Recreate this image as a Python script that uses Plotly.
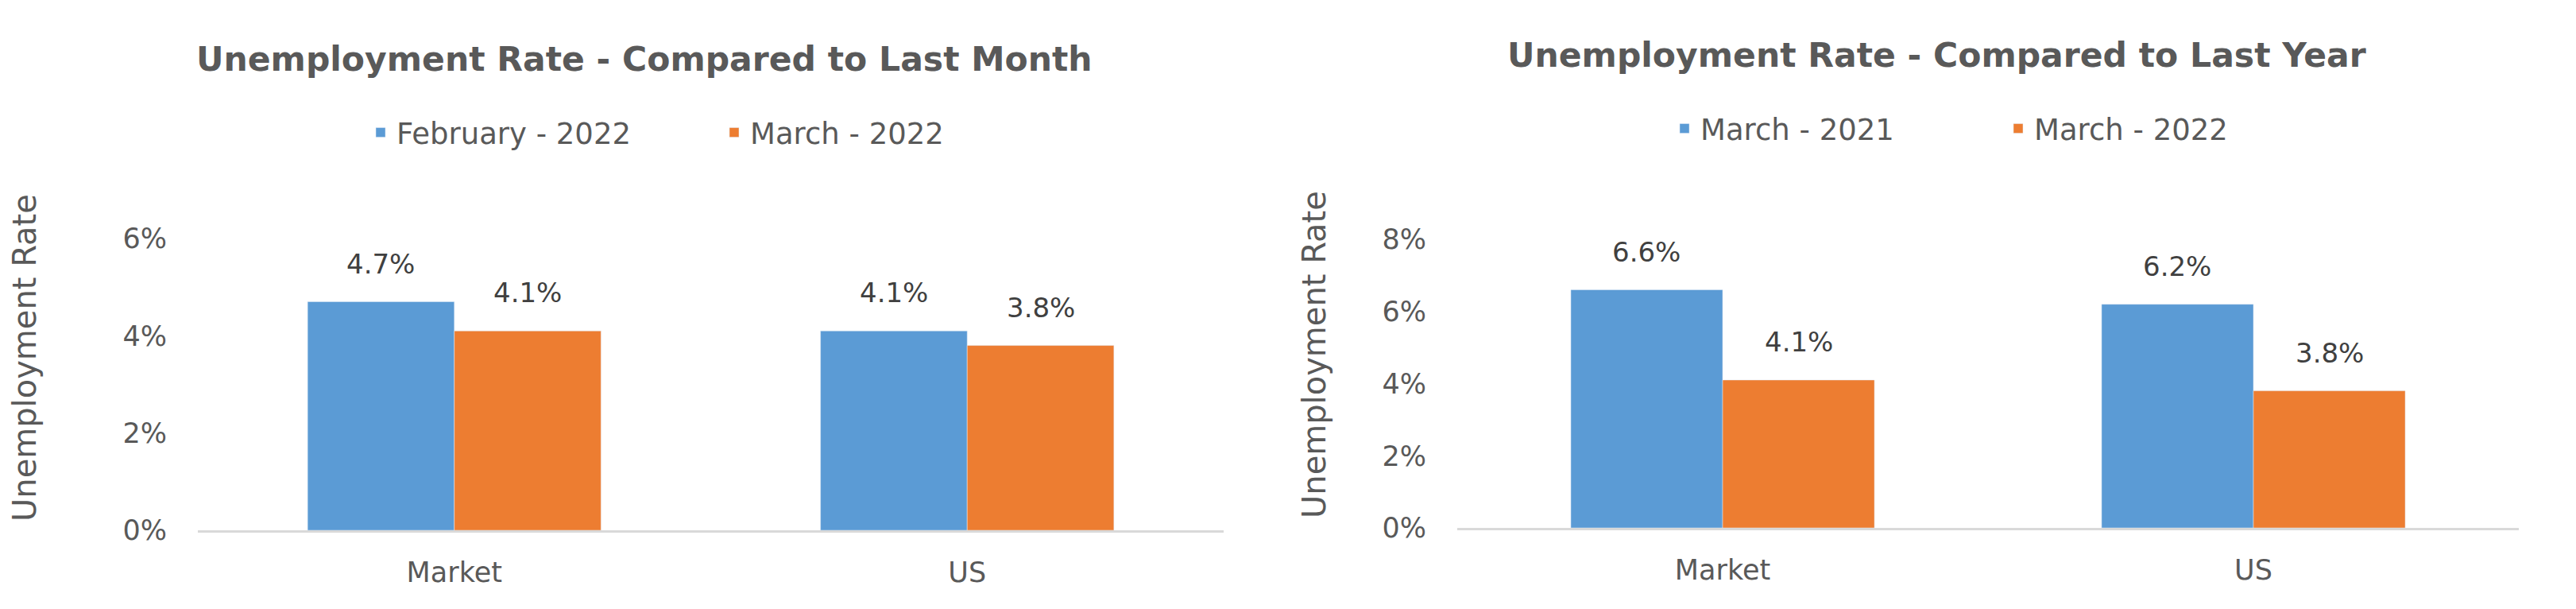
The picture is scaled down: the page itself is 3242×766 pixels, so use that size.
import plotly.graph_objects as go

categories = ["Market", "US"]

month_title = "Unemployment Rate - Compared to Last Month"
month_series_names = ["February - 2022", "March - 2022"]
month_prev = [4.7, 4.1]
month_curr = [4.1, 3.8]

year_title = "Unemployment Rate - Compared to Last Year"
year_series_names = ["March - 2021", "March - 2022"]
year_prev = [6.6, 6.2]
year_curr = [4.1, 3.8]

y_title = "Unemployment Rate"
month_ticks = [0, 2, 4, 6]
year_ticks = [0, 2, 4, 6, 8]

BLUE = "#5B9BD5"
ORANGE = "#ED7D31"
GRAY = "#595959"
DARK = "#404040"
FONT = "DejaVu Sans"
BARGAP = 0.428

fig = go.Figure()

fig.add_trace(go.Bar(x=categories, y=month_prev, name=month_series_names[0],
                     marker_color=BLUE, xaxis="x", yaxis="y", legend="legend"))
fig.add_trace(go.Bar(x=categories, y=month_curr, name=month_series_names[1],
                     marker_color=ORANGE, xaxis="x", yaxis="y", legend="legend"))
fig.add_trace(go.Bar(x=categories, y=year_prev, name=year_series_names[0],
                     marker_color=BLUE, xaxis="x2", yaxis="y2", legend="legend2"))
fig.add_trace(go.Bar(x=categories, y=year_curr, name=year_series_names[1],
                     marker_color=ORANGE, xaxis="x2", yaxis="y2", legend="legend2"))

off = (1 - BARGAP) / 4
annotations = []
for xa, ya, prev, curr in (("x", "y", month_prev, month_curr), ("x2", "y2", year_prev, year_curr)):
    for i, (p, c) in enumerate(zip(prev, curr)):
        for dx, v in ((-off, p), (off, c)):
            annotations.append(dict(x=i + dx, y=v, xref=xa, yref=ya, text=f"{v}%",
                                    showarrow=False, yanchor="bottom", yshift=26,
                                    font=dict(family=FONT, size=34, color=DARK)))

annotations += [
    dict(x=811 / 3242, y=1 - 74 / 766, xref="paper", yref="paper", text=f"<b>{month_title}</b>",
         showarrow=False, xanchor="center", yanchor="middle",
         font=dict(family=FONT, size=42.5, color=GRAY)),
    dict(x=2437 / 3242, y=1 - 69 / 766, xref="paper", yref="paper", text=f"<b>{year_title}</b>",
         showarrow=False, xanchor="center", yanchor="middle",
         font=dict(family=FONT, size=42.5, color=GRAY)),
    dict(x=31 / 3242, y=1 - 450 / 766, xref="paper", yref="paper", text=y_title,
         showarrow=False, textangle=-90, xanchor="center", yanchor="middle",
         font=dict(family=FONT, size=40, color=GRAY)),
    dict(x=1654 / 3242, y=1 - 446 / 766, xref="paper", yref="paper", text=y_title,
         showarrow=False, textangle=-90, xanchor="center", yanchor="middle",
         font=dict(family=FONT, size=40, color=GRAY)),
]

axis_font = dict(family=FONT, size=35, color=GRAY)
xcommon = dict(type="category", showgrid=False, zeroline=False, showline=True,
               linecolor="#D9D9D9", linewidth=3, ticks="", tickfont=axis_font,
               ticklabelstandoff=20, fixedrange=True, automargin=False)
ycommon = dict(showgrid=False, zeroline=False, showline=False, ticks="",
               tickfont=axis_font, ticklabelstandoff=38, fixedrange=True, automargin=False)

fig.update_layout(
    width=3242, height=766,
    margin=dict(l=0, r=0, t=0, b=0, autoexpand=False),
    paper_bgcolor="white", plot_bgcolor="white",
    barmode="group", bargap=BARGAP, bargroupgap=0,
    showlegend=True,
    xaxis=dict(domain=[249 / 3242, 1540 / 3242], anchor="y", **xcommon),
    yaxis=dict(domain=[(766 - 667) / 766, (766 - 300) / 766], anchor="x",
               range=[0, 6], tickmode="array", tickvals=month_ticks,
               ticktext=[f"{t}%" for t in month_ticks], **ycommon),
    xaxis2=dict(domain=[1834 / 3242, 3170 / 3242], anchor="y2", **xcommon),
    yaxis2=dict(domain=[(766 - 664) / 766, (766 - 301) / 766], anchor="x2",
                range=[0, 8], tickmode="array", tickvals=year_ticks,
                ticktext=[f"{t}%" for t in year_ticks], **ycommon),
    legend=dict(orientation="h", x=459 / 3242, y=1 - 167 / 766, xanchor="left", yanchor="middle",
                font=dict(family=FONT, size=37, color=GRAY), entrywidth=400,
                bgcolor="rgba(0,0,0,0)"),
    legend2=dict(orientation="h", x=2100 / 3242, y=1 - 162 / 766, xanchor="left", yanchor="middle",
                 font=dict(family=FONT, size=37, color=GRAY), entrywidth=375,
                 bgcolor="rgba(0,0,0,0)"),
    annotations=annotations,
)

fig.write_html("out.html")
